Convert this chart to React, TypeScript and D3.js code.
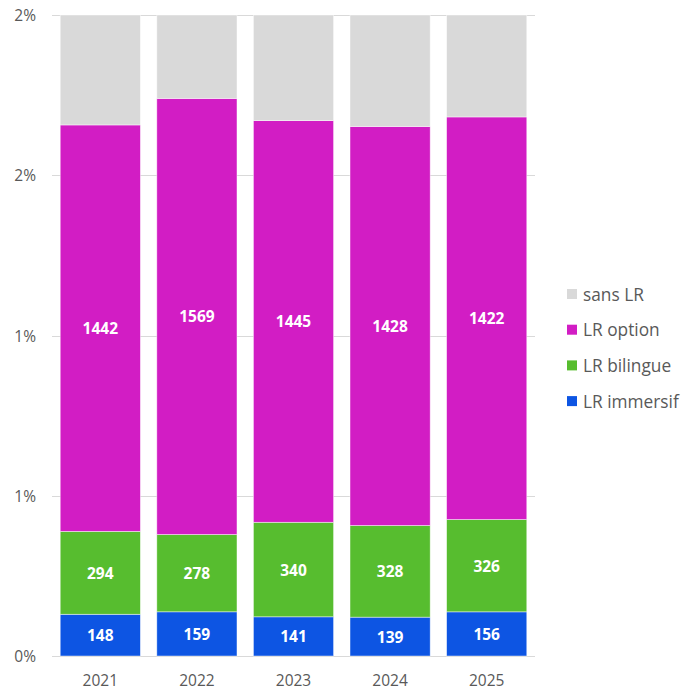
import React from "react";
import * as d3 from "d3";

const years = ["2021", "2022", "2023", "2024", "2025"];
const immersif = [148, 159, 141, 139, 156];
const bilingue = [294, 278, 340, 328, 326];
const option = [1442, 1569, 1445, 1428, 1422];
// estimated total population per year (denominator of the percentages)
const totals = [113700, 115300, 115300, 114700, 113200];
const seriesNames = ["LR immersif", "LR bilingue", "LR option", "sans LR"];
const seriesColors = ["#0d55e3", "#57bd2f", "#d21dc4", "#d9d9d9"];
const yTicks = [0, 0.5, 1, 1.5, 2];

const W = 683;
const H = 690;
const M = { left: 52, right: 148, top: 15, bottom: 34 };

export default function App() {
  const sansLR = totals.map((t, i) => t - immersif[i] - bilingue[i] - option[i]);
  const rows = years.map((y, i) => ({
    year: y,
    "LR immersif": (immersif[i] / totals[i]) * 100,
    "LR bilingue": (bilingue[i] / totals[i]) * 100,
    "LR option": (option[i] / totals[i]) * 100,
    "sans LR": (sansLR[i] / totals[i]) * 100,
    counts: [immersif[i], bilingue[i], option[i], sansLR[i]],
  }));
  const stack = d3.stack<any>().keys(seriesNames)(rows as any);

  const x = d3
    .scaleBand<string>()
    .domain(years)
    .range([M.left, W - M.right])
    .paddingInner(0.17)
    .paddingOuter(0.085);
  const y = d3
    .scaleLinear()
    .domain([0, 2])
    .range([H - M.bottom, M.top])
    .clamp(true);

  const font = "'Open Sans', 'Noto Sans', sans-serif";
  const textColor = "#595959";

  return (
    <svg
      width={W}
      height={H}
      style={{ position: "absolute", left: 0, top: 0, background: "#fff" }}
      fontFamily={font}
    >
      {yTicks.map((t) => (
        <g key={t}>
          <line
            x1={M.left}
            x2={W - M.right}
            y1={Math.round(y(t)) + 0.5}
            y2={Math.round(y(t)) + 0.5}
            stroke="#d9d9d9"
            strokeWidth={1.2}
          />
          <text
            x={36}
            y={y(t)}
            textAnchor="end"
            dominantBaseline="central"
            fontSize={15.5}
            fill={textColor}
          >
            {Math.round(t) + "%"}
          </text>
        </g>
      ))}
      {stack.map((s, si) =>
        s.map((d, i) => {
          const y0 = y(d[0]);
          const y1 = y(d[1]);
          const bx = x(years[i])!;
          return (
            <g key={si + "-" + i}>
              <rect
                x={bx}
                y={y1}
                width={x.bandwidth()}
                height={Math.max(0, y0 - y1)}
                fill={seriesColors[si]}
                stroke="#ffffff"
                strokeOpacity={0.6}
                strokeWidth={0.75}
              />
              {si < 3 && (
                <text
                  x={bx + x.bandwidth() / 2}
                  y={(y0 + y1) / 2}
                  textAnchor="middle"
                  dominantBaseline="central"
                  fontSize={15.5}
                  fontWeight="bold"
                  fill="#ffffff"
                >
                  {(rows[i] as any).counts[si]}
                </text>
              )}
            </g>
          );
        })
      )}
      {years.map((yr) => (
        <text
          key={yr}
          x={x(yr)! + x.bandwidth() / 2}
          y={H - M.bottom + 24}
          textAnchor="middle"
          dominantBaseline="central"
          fontSize={15.5}
          fill={textColor}
        >
          {yr}
        </text>
      ))}
      {seriesNames
        .slice()
        .reverse()
        .map((name, k) => {
          const si = seriesNames.indexOf(name);
          const ly = 294 + k * 35.7;
          return (
            <g key={name}>
              <rect x={567} y={ly - 5} width={10} height={10} fill={seriesColors[si]} />
              <text
                x={583}
                y={ly}
                dominantBaseline="central"
                fontSize={17.3}
                fill={textColor}
              >
                {name}
              </text>
            </g>
          );
        })}
    </svg>
  );
}
